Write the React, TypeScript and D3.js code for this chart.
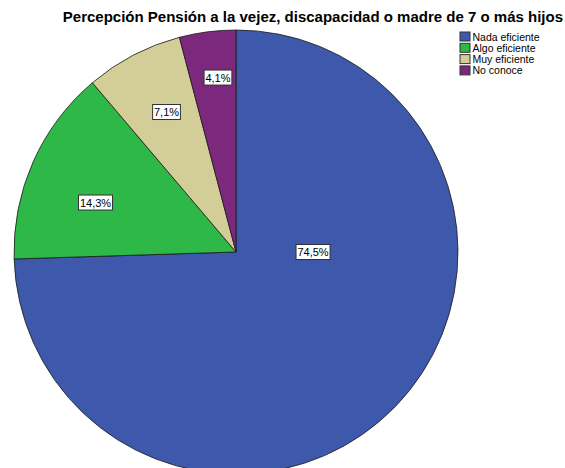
import React from "react";
import * as d3 from "d3";

const categories = ["Nada eficiente", "Algo eficiente", "Muy eficiente", "No conoce"];
const values = [74.5, 14.3, 7.1, 4.1];
const labels = ["74,5%", "14,3%", "7,1%", "4,1%"];
const colors = ["#3E58AC", "#2EB848", "#D3CE97", "#7C287D"];
const title = "Percepción Pensión a la vejez, discapacidad o madre de 7 o más hijos";

// label placement (layout only): radius fraction and angle (degrees clockwise from top)
const labelRadiusFrac = [0.347, 0.671, 0.704, 0.79];
const labelAngleDeg = [90, 289.4, 333.6, 354.1];

export default function App() {
  const W = 565, H = 468;
  const cx = 236, cy = 252, r = 222;
  const pie = d3.pie<number>().sort(null).value((d) => d)(values);
  const arc = d3.arc<d3.PieArcDatum<number>>().innerRadius(0).outerRadius(r);
  const font = "Liberation Sans, Arial, sans-serif";
  return (
    <svg width={W} height={H} style={{ position: "absolute", left: 0, top: 0, background: "#fff" }}>
      <rect width={W} height={H} fill="#fff" />
      <text x={563} y={22} textAnchor="end" fontFamily={font} fontWeight="bold" fontSize={15} fill="#000">
        {title}
      </text>
      <g transform={`translate(${cx},${cy})`}>
        {pie.map((p, i) => (
          <path key={i} d={arc(p) || ""} fill={colors[i]} stroke="#1a1a1a" strokeWidth={0.8} />
        ))}
        {pie.map((p, i) => {
          const a = (labelAngleDeg[i] * Math.PI) / 180;
          const rr = labelRadiusFrac[i] * r;
          const x = Math.sin(a) * rr;
          const y = -Math.cos(a) * rr;
          const w = labels[i].length * 6.2 + 3;
          return (
            <g key={"l" + i} transform={`translate(${x},${y})`}>
              <rect x={-w / 2} y={-7.5} width={w} height={15} fill="#fff" stroke="#333" strokeWidth={1} />
              <text x={0} y={4} textAnchor="middle" fontFamily={font} fontSize={11} fill="#000">
                {labels[i]}
              </text>
            </g>
          );
        })}
      </g>
      <g transform="translate(460,32)">
        {categories.map((c, i) => (
          <g key={c} transform={`translate(0,${i * 11.3})`}>
            <rect x={0} y={0} width={10} height={9} fill={colors[i]} stroke="#333" strokeWidth={1} />
            <text x={12.5} y={8.5} fontFamily={font} fontSize={10.5} fill="#000">
              {c}
            </text>
          </g>
        ))}
      </g>
    </svg>
  );
}
